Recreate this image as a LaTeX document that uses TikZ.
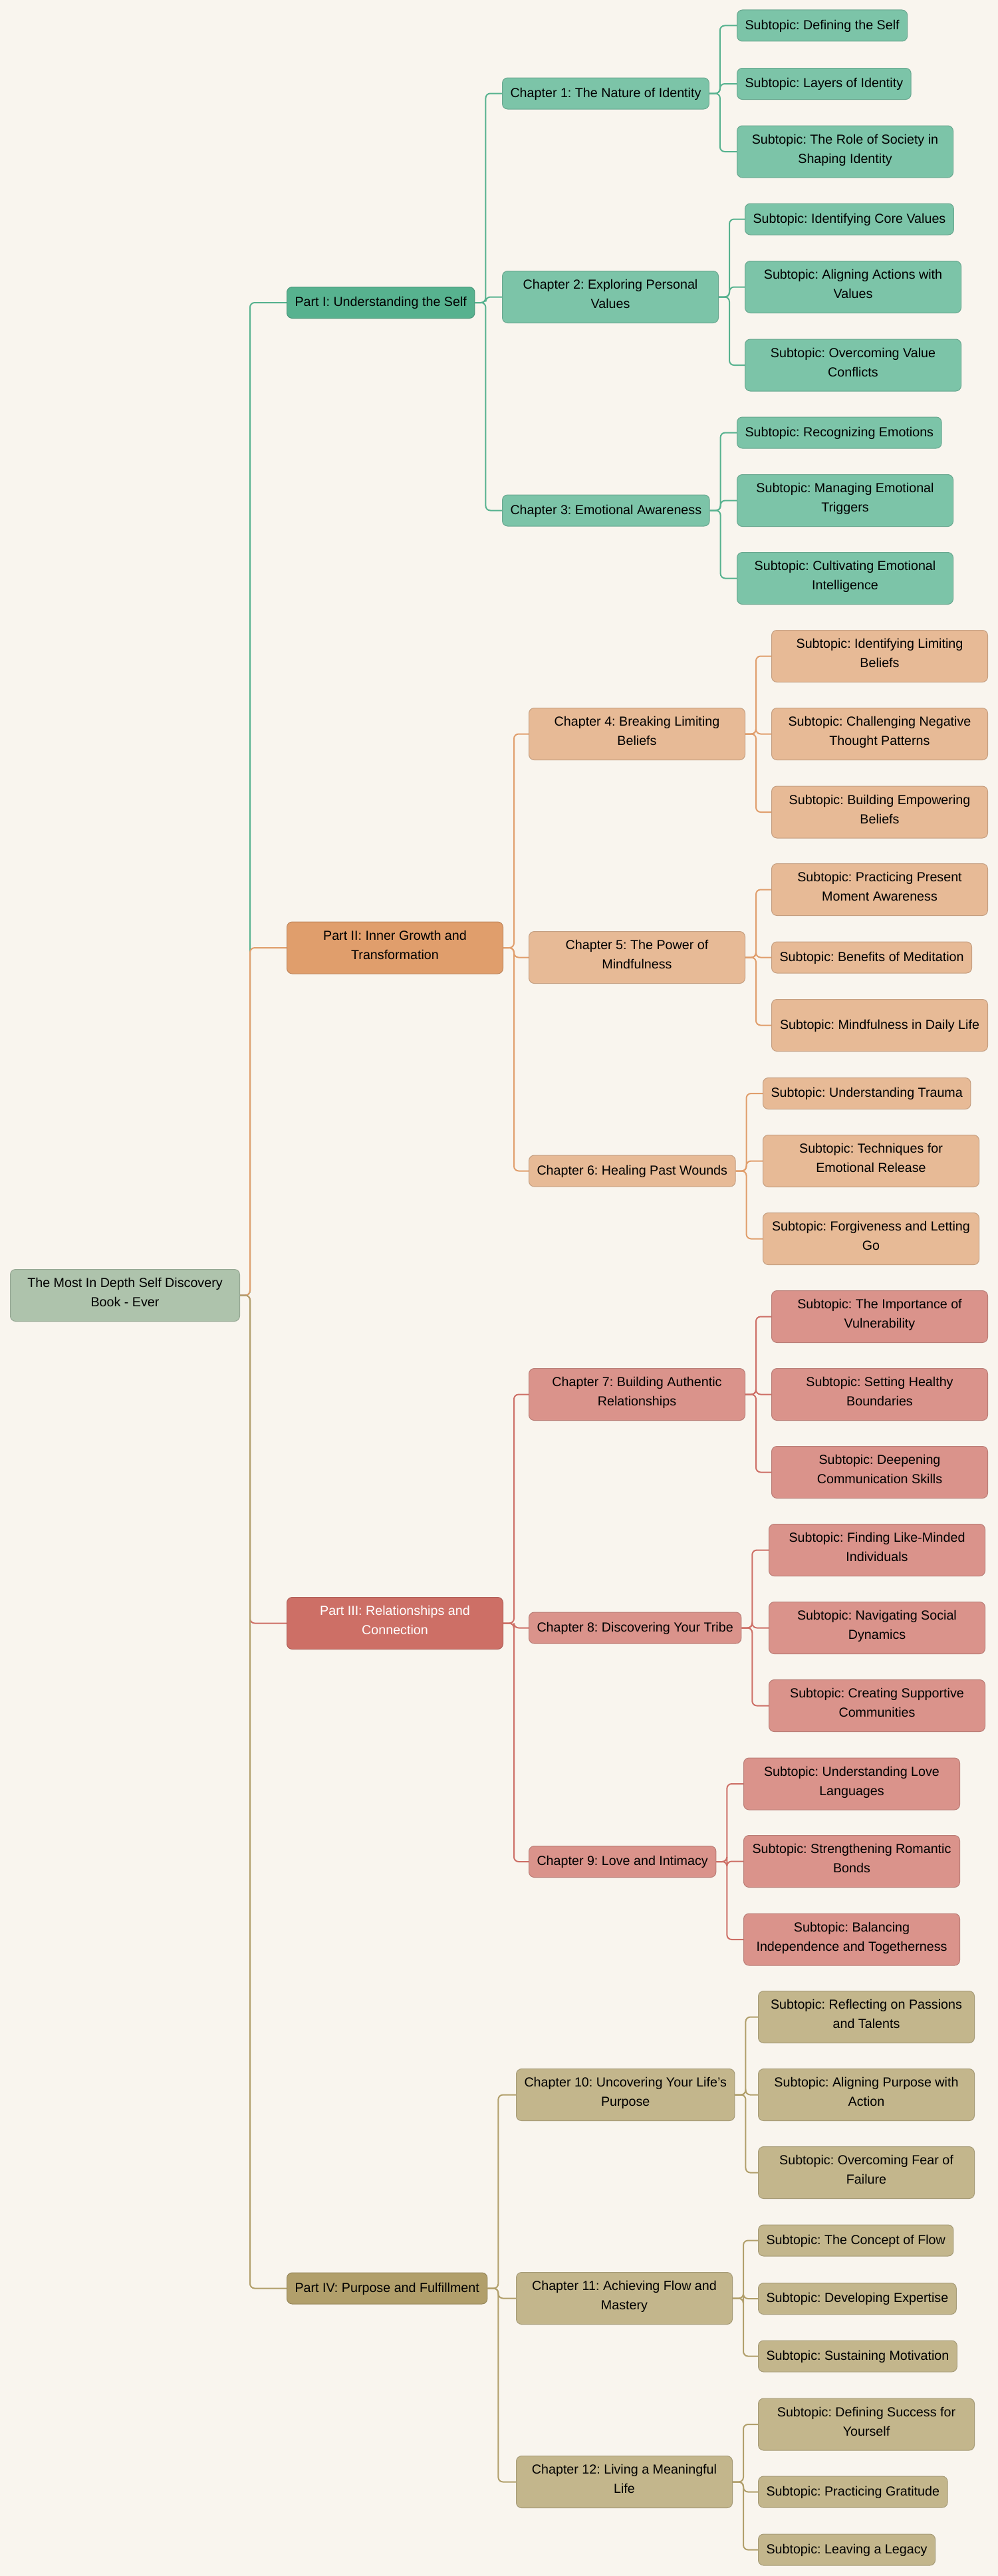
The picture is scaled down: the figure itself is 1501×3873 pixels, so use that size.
\documentclass[tikz,border=0pt]{standalone}
\usepackage{fontspec}
\setmainfont{Liberation Sans}
\frenchspacing
\definecolor{bgcream}{HTML}{F9F5EE}
\definecolor{rootgreen}{HTML}{AEC3AC}
\definecolor{grnA}{HTML}{57B28F}
\definecolor{grnB}{HTML}{7CC4A8}
\definecolor{orgA}{HTML}{E09E6C}
\definecolor{orgB}{HTML}{E7BA96}
\definecolor{redA}{HTML}{CD6F66}
\definecolor{redB}{HTML}{DA938B}
\definecolor{oliA}{HTML}{B19F6B}
\definecolor{oliB}{HTML}{C3B68C}

\begin{document}
\begin{tikzpicture}[x=1pt, y=-1pt,
  mapbox/.style={draw=#1!85!black, fill=#1, line width=1pt, rounded corners=8pt,
    inner xsep=12pt, inner ysep=0pt, minimum height=47pt, anchor=west, align=center,
    font=\fontsize{19.7}{29.3}\selectfont,
    execute at begin node=\strut, execute at end node=\strut},
  twoline/.style={minimum height=78pt},
  widebox/.style={minimum width=325pt},
  branch/.style={draw=#1, line width=2pt, rounded corners=7pt}]
  \fill[bgcream] (0,0) rectangle (1501,3873);
  \useasboundingbox (0,0) rectangle (1501,3873);

  \node[mapbox=rootgreen, twoline, minimum width=345pt] (root) at (15,1947.5) {The Most In Depth Self Discovery\\Book - Ever};

  % parts
  \node[mapbox=grnA] (p1) at (431,455) {Part I: Understanding the Self};
  \node[mapbox=orgA, twoline, widebox] (p2) at (431,1425) {Part II: Inner Growth and\\Transformation};
  \node[mapbox=redA, twoline, widebox, text=white] (p3) at (431,2440.5) {Part III: Relationships and\\Connection};
  \node[mapbox=oliA] (p4) at (431,3440.5) {Part IV: Purpose and Fulfillment};

  % chapters
  \node[mapbox=grnB] (c1) at (755,140.5) {Chapter 1: The Nature of Identity};
  \node[mapbox=grnB, twoline, widebox] (c2) at (755,446.5) {Chapter 2: Exploring Personal\\Values};
  \node[mapbox=grnB] (c3) at (755,767.5) {Chapter 3: Emotional Awareness};
  \node[mapbox=orgB, twoline, widebox] (c4) at (795,1103.5) {Chapter 4: Breaking Limiting\\Beliefs};
  \node[mapbox=orgB, twoline, widebox] (c5) at (795,1439.5) {Chapter 5: The Power of\\Mindfulness};
  \node[mapbox=orgB] (c6) at (795,1760.5) {Chapter 6: Healing Past Wounds};
  \node[mapbox=redB, twoline, widebox] (c7) at (795,2096.5) {Chapter 7: Building Authentic\\Relationships};
  \node[mapbox=redB] (c8) at (795,2447.5) {Chapter 8: Discovering Your Tribe};
  \node[mapbox=redB] (c9) at (795,2799) {Chapter 9: Love and Intimacy};
  \node[mapbox=oliB, twoline, widebox] (c10) at (776,3149.5) {Chapter 10: Uncovering Your Life's\\Purpose};
  \node[mapbox=oliB, twoline, widebox] (c11) at (776,3455.5) {Chapter 11: Achieving Flow and\\Mastery};
  \node[mapbox=oliB, twoline, widebox] (c12) at (776,3731.5) {Chapter 12: Living a Meaningful\\Life};

  % subtopics
  \node[mapbox=grnB] (s1a) at (1108,38.5) {Subtopic: Defining the Self};
  \node[mapbox=grnB] (s1b) at (1108,126) {Subtopic: Layers of Identity};
  \node[mapbox=grnB, twoline, widebox] (s1c) at (1108,228) {Subtopic: The Role of Society in\\Shaping Identity};
  \node[mapbox=grnB] (s2a) at (1120,329.5) {Subtopic: Identifying Core Values};
  \node[mapbox=grnB, twoline, widebox] (s2b) at (1120,431.5) {Subtopic: Aligning Actions with\\Values};
  \node[mapbox=grnB, twoline, widebox] (s2c) at (1120,549) {Subtopic: Overcoming Value\\Conflicts};
  \node[mapbox=grnB] (s3a) at (1108,650.5) {Subtopic: Recognizing Emotions};
  \node[mapbox=grnB, twoline, widebox] (s3b) at (1108,752.5) {Subtopic: Managing Emotional\\Triggers};
  \node[mapbox=grnB, twoline, widebox] (s3c) at (1108,869.5) {Subtopic: Cultivating Emotional\\Intelligence};

  \node[mapbox=orgB, twoline, widebox] (s4a) at (1160,986.5) {Subtopic: Identifying Limiting\\Beliefs};
  \node[mapbox=orgB, twoline, widebox] (s4b) at (1160,1103.5) {Subtopic: Challenging Negative\\Thought Patterns};
  \node[mapbox=orgB, twoline, widebox] (s4c) at (1160,1221) {Subtopic: Building Empowering\\Beliefs};
  \node[mapbox=orgB, twoline, widebox] (s5a) at (1160,1337.5) {Subtopic: Practicing Present\\Moment Awareness};
  \node[mapbox=orgB] (s5b) at (1160,1439.5) {Subtopic: Benefits of Meditation};
  \node[mapbox=orgB, twoline, widebox] (s5c) at (1160,1541.5) {Subtopic: Mindfulness in Daily Life};
  \node[mapbox=orgB] (s6a) at (1147,1644) {Subtopic: Understanding Trauma};
  \node[mapbox=orgB, twoline, widebox] (s6b) at (1147,1745.5) {Subtopic: Techniques for\\Emotional Release};
  \node[mapbox=orgB, twoline, widebox] (s6c) at (1147,1862.5) {Subtopic: Forgiveness and Letting\\Go};

  \node[mapbox=redB, twoline, widebox] (s7a) at (1160,1979.5) {Subtopic: The Importance of\\Vulnerability};
  \node[mapbox=redB, twoline, widebox] (s7b) at (1160,2096.5) {Subtopic: Setting Healthy\\Boundaries};
  \node[mapbox=redB, twoline, widebox] (s7c) at (1160,2213.5) {Subtopic: Deepening\\Communication Skills};
  \node[mapbox=redB, twoline, widebox] (s8a) at (1156,2330.5) {Subtopic: Finding Like-Minded\\Individuals};
  \node[mapbox=redB, twoline, widebox] (s8b) at (1156,2447.5) {Subtopic: Navigating Social\\Dynamics};
  \node[mapbox=redB, twoline, widebox] (s8c) at (1156,2564.5) {Subtopic: Creating Supportive\\Communities};
  \node[mapbox=redB, twoline, widebox] (s9a) at (1118,2682) {Subtopic: Understanding Love\\Languages};
  \node[mapbox=redB, twoline, widebox] (s9b) at (1118,2798.5) {Subtopic: Strengthening Romantic\\Bonds};
  \node[mapbox=redB, twoline, widebox] (s9c) at (1118,2916) {Subtopic: Balancing\\Independence and Togetherness};

  \node[mapbox=oliB, twoline, widebox] (s10a) at (1140,3032.5) {Subtopic: Reflecting on Passions\\and Talents};
  \node[mapbox=oliB, twoline, widebox] (s10b) at (1140,3149.5) {Subtopic: Aligning Purpose with\\Action};
  \node[mapbox=oliB, twoline, widebox] (s10c) at (1140,3266.5) {Subtopic: Overcoming Fear of\\Failure};
  \node[mapbox=oliB] (s11a) at (1140,3368.5) {Subtopic: The Concept of Flow};
  \node[mapbox=oliB] (s11b) at (1140,3456) {Subtopic: Developing Expertise};
  \node[mapbox=oliB] (s11c) at (1140,3542.5) {Subtopic: Sustaining Motivation};
  \node[mapbox=oliB, twoline, widebox] (s12a) at (1140,3645) {Subtopic: Defining Success for\\Yourself};
  \node[mapbox=oliB] (s12b) at (1140,3746.5) {Subtopic: Practicing Gratitude};
  \node[mapbox=oliB] (s12c) at (1140,3833.5) {Subtopic: Leaving a Legacy};

  % connectors
  \foreach \p/\col in {p1/grnA, p2/orgA, p3/redA, p4/oliA}
    \draw[branch=\col] (root.east) -- ++(15,0) |- (\p.west);
  \foreach \c in {c1,c2,c3} \draw[branch=grnA] (p1.east) -- ++(16,0) |- (\c.west);
  \foreach \c in {c4,c5,c6} \draw[branch=orgA] (p2.east) -- ++(16,0) |- (\c.west);
  \foreach \c in {c7,c8,c9} \draw[branch=redA] (p3.east) -- ++(16,0) |- (\c.west);
  \foreach \c in {c10,c11,c12} \draw[branch=oliA] (p4.east) -- ++(16,0) |- (\c.west);
  \foreach \c/\col in {1/grnA, 2/grnA, 3/grnA, 4/orgA, 5/orgA, 6/orgA,
      7/redA, 8/redA, 9/redA, 10/oliA, 11/oliA, 12/oliA}
    \foreach \s in {a,b,c}
      \draw[branch=\col] (c\c.east) -- ++(16,0) |- (s\c\s.west);
\end{tikzpicture}
\end{document}
